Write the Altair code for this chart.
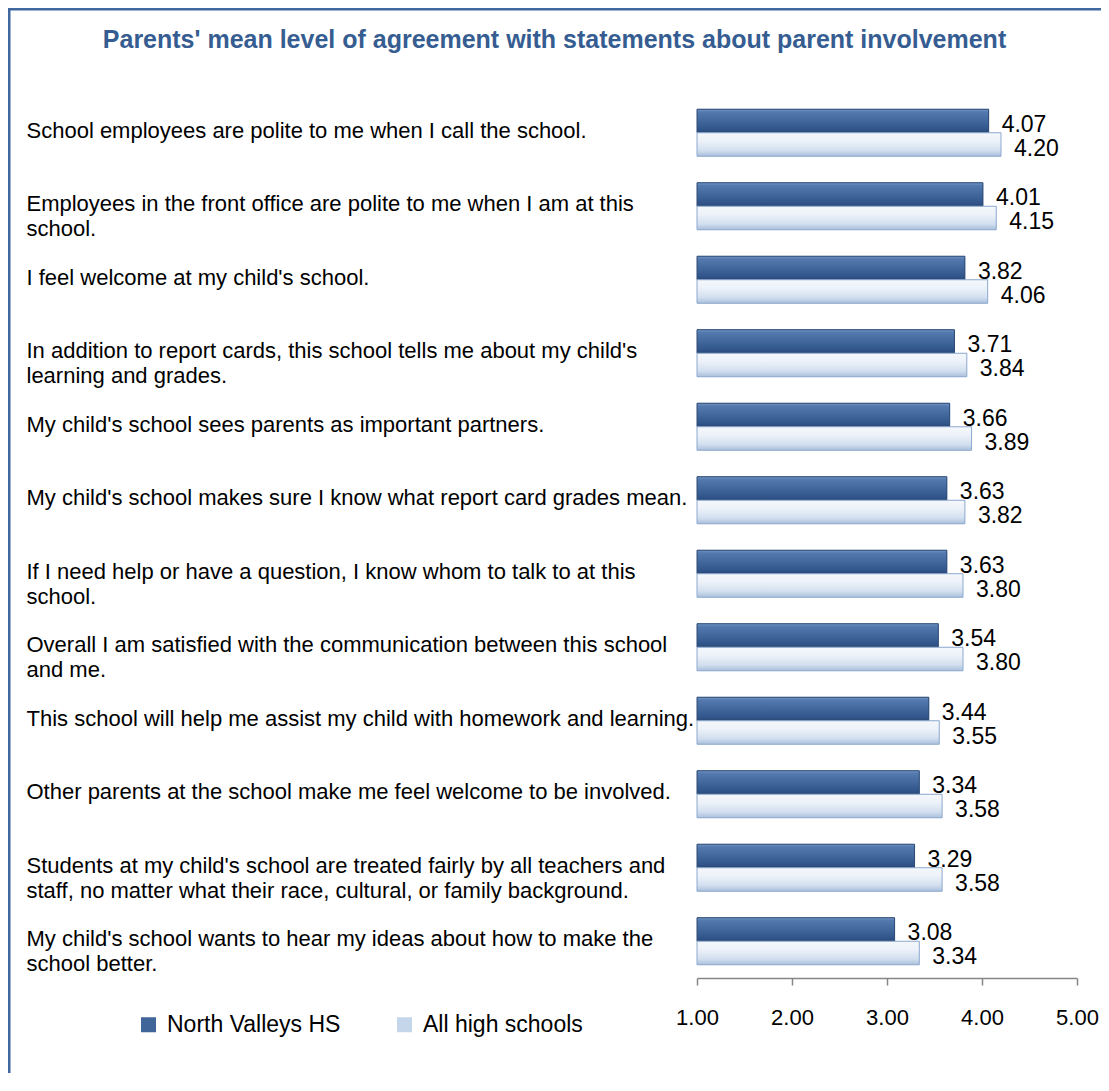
import altair as alt
import pandas as pd

CATEGORIES = [
    "School employees are polite to me when I call the school.",
    "Employees in the front office are polite to me when I am at this|school.",
    "I feel welcome at my child's school.",
    "In addition to report cards, this school tells me about my child's|learning and grades.",
    "My child's school sees parents as important partners.",
    "My child's school makes sure I know what report card grades mean.",
    "If I need help or have a question, I know whom to talk to at this|school.",
    "Overall I am satisfied with the communication between this school|and me.",
    "This school will help me assist my child with homework and learning.",
    "Other parents at the school make me feel welcome to be involved.",
    "Students at my child's school are treated fairly by all teachers and|staff, no matter what their race, cultural, or family background.",
    "My child's school wants to hear my ideas about how to make the|school better.",
]
NORTH_VALLEYS = [4.07, 4.01, 3.82, 3.71, 3.66, 3.63, 3.63, 3.54, 3.44, 3.34, 3.29, 3.08]
ALL_HIGH = [4.20, 4.15, 4.06, 3.84, 3.89, 3.82, 3.80, 3.80, 3.55, 3.58, 3.58, 3.34]
SERIES = ["North Valleys HS", "All high schools"]
X_TICKS = [1, 2, 3, 4, 5]
TITLE = "Parents' mean level of agreement with statements about parent involvement"

rows = []
for c, a, b in zip(CATEGORIES, NORTH_VALLEYS, ALL_HIGH):
    rows.append({"q": c, "series": SERIES[0], "v": a})
    rows.append({"q": c, "series": SERIES[1], "v": b})
df = pd.DataFrame(rows)

FONT = "Liberation Sans"
DARK = "#3f6599"
LIGHT = "#c6d6ea"

y_enc = alt.Y("q:N", sort=CATEGORIES,
              scale=alt.Scale(paddingInner=0.36, paddingOuter=0.18),
              axis=alt.Axis(title=None, domain=False, ticks=False, tickSize=0,
                            labelAlign="left", labelBaseline="middle",
                            labelPadding=671, labelLimit=0, labelFont=FONT,
                            labelFontSize=22, labelColor="#000000",
                            labelLineHeight=25, labelOffset=-2,
                            labelExpr="split(datum.label, '|')"))
x_enc = alt.X("v:Q", scale=alt.Scale(domain=[1, 5], nice=False, zero=False),
              axis=alt.Axis(title=None, values=X_TICKS, format=".2f", grid=False,
                            domainColor="#868686", tickColor="#868686",
                            tickSize=7, domainWidth=1.5, tickWidth=1.5,
                            labelFlush=False, labelOverlap=False,
                            labelFont=FONT, labelFontSize=22, labelColor="#000000",
                            labelPadding=22))
yoff = alt.YOffset("series:N", sort=SERIES,
                   scale=alt.Scale(domain=SERIES, paddingInner=0, paddingOuter=0))

base = alt.Chart(df)

bars = base.mark_bar().encode(
    y=y_enc, x=x_enc, x2=alt.X2Datum(1), yOffset=yoff,
    color=alt.Color("series:N", sort=SERIES,
                    scale=alt.Scale(domain=SERIES, range=[DARK, LIGHT]),
                    legend=alt.Legend(title=None, orient="none", direction="horizontal",
                                      legendX=-560, legendY=917,
                                      symbolType="square", symbolSize=225,
                                      symbolStrokeWidth=0,
                                      labelFont=FONT, labelFontSize=23,
                                      labelColor="#000000", labelOffset=7,
                                      columnPadding=52, labelLimit=0)),
)

dark_grad = {"gradient": "linear", "x1": 0, "y1": 0, "x2": 0, "y2": 1,
             "stops": [{"offset": 0, "color": "#7396c6"},
                       {"offset": 0.12, "color": "#5479ae"},
                       {"offset": 0.5, "color": "#41679c"},
                       {"offset": 0.88, "color": "#30548a"},
                       {"offset": 1, "color": "#284670"}]}
light_grad = {"gradient": "linear", "x1": 0, "y1": 0, "x2": 0, "y2": 1,
              "stops": [{"offset": 0, "color": "#f4f8fc"},
                        {"offset": 0.35, "color": "#edf2f9"},
                        {"offset": 0.75, "color": "#d2dfef"},
                        {"offset": 1, "color": "#a9bfdc"}]}

dark_over = base.transform_filter(alt.datum.series == SERIES[0]).mark_bar(
    fill=dark_grad, stroke="#2c4a74", strokeWidth=1
).encode(y=y_enc, x=x_enc, x2=alt.X2Datum(1), yOffset=yoff)

light_over = base.transform_filter(alt.datum.series == SERIES[1]).mark_bar(
    fill=light_grad, stroke="#8ea9cf", strokeWidth=1
).encode(y=y_enc, x=x_enc, x2=alt.X2Datum(1), yOffset=yoff)

labels = base.mark_text(align="left", baseline="middle", dx=13, dy=4,
                        font=FONT, fontSize=23, color="#000000").encode(
    y=y_enc, x=x_enc, yOffset=yoff, text=alt.Text("v:Q", format=".2f"))

frame_df = pd.DataFrame({"k": [0]})
top_rule = alt.Chart(frame_df).mark_rule(color="#3f67a0", strokeWidth=3).encode(
    x=alt.value(-689), x2=alt.value(404), y=alt.value(-87))
left_rule = alt.Chart(frame_df).mark_rule(color="#3f67a0", strokeWidth=3).encode(
    x=alt.value(-688), y=alt.value(-87), y2=alt.value(977))

chart = alt.layer(bars, dark_over, light_over, labels, top_rule, left_rule).properties(
    width=380, height=882,
    autosize=alt.AutoSizeParams(type="none"),
    padding={"left": 689, "top": 88, "right": 24, "bottom": 95},
    title=alt.TitleParams(TITLE, font=FONT, fontSize=25, fontWeight="bold",
                          color="#365d91", anchor="middle", frame="bounds",
                          offset=0, baseline="middle", dy=57),
).configure_view(stroke=None)

chart.save("out.html", embed_options={"renderer": "svg", "actions": False})
